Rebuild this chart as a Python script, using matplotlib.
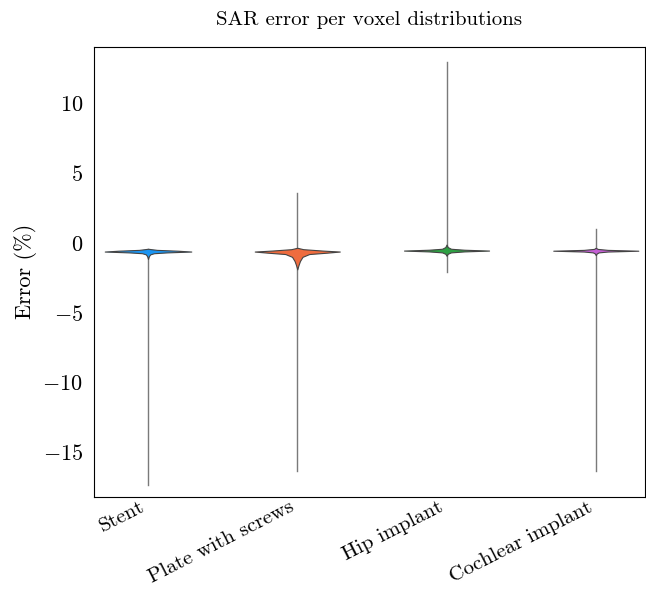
import matplotlib
matplotlib.use("Agg")
import matplotlib.pyplot as plt
import numpy as np

plt.rcParams['font.family'] = 'serif'
plt.rcParams['font.serif'] = ['cmr10']
plt.rcParams['mathtext.fontset'] = 'cm'
plt.rcParams['axes.formatter.use_mathtext'] = True

# Categories and summary values
labels = ['Stent', 'Plate with screws', 'Hip implant', 'Cochlear implant']
colors = ['#1b95f2', '#ef6c3e', '#2ea043', '#c460d4']
err_min = [-17.35, -16.4, -2.1, -16.4]
err_max = [-0.45, 3.55, 12.95, 1.0]

# Violin profiles: error levels (%) and estimated half-widths of the density
stent_y = [-0.42, -0.5, -0.56, -0.62, -0.68, -0.74, -0.82, -0.95, -1.15]
stent_w = [0.0, 0.06, 0.2, 0.29, 0.13, 0.04, 0.015, 0.006, 0.0]
plate_y = [-0.35, -0.45, -0.55, -0.62, -0.7, -0.8, -1.0, -1.3, -1.6, -1.9]
plate_w = [0.0, 0.04, 0.17, 0.285, 0.2, 0.08, 0.035, 0.018, 0.008, 0.0]
hip_y = [-0.12, -0.3, -0.42, -0.49, -0.55, -0.61, -0.68, -0.78, -0.92]
hip_w = [0.0, 0.008, 0.03, 0.12, 0.285, 0.12, 0.03, 0.008, 0.0]
coch_y = [-0.35, -0.43, -0.5, -0.56, -0.62, -0.68, -0.76, -0.88]
coch_w = [0.0, 0.012, 0.08, 0.285, 0.08, 0.02, 0.006, 0.0]

profiles = [(stent_y, stent_w), (plate_y, plate_w), (hip_y, hip_w), (coch_y, coch_w)]

fig = plt.figure(figsize=(6.46, 5.89), dpi=100)
ax = fig.add_axes([0.1455, 0.157, 0.853, 0.763])

for i, (yv, wv) in enumerate(profiles):
    # whisker line from min to max
    ax.plot([i, i], [err_min[i], err_max[i]], color='#7a7a7a', lw=1.0, zorder=1)
    yv = np.array(yv)
    wv = np.array(wv)
    ax.fill_betweenx(yv, i - wv, i + wv, facecolor=colors[i],
                     edgecolor='#444444', lw=0.8, zorder=2)

ax.set_xticks(range(len(labels)))
ax.set_xticklabels(labels, rotation=27, ha='right', fontsize=15)
ax.set_xlim(-0.362, 3.33)
ax.set_ylim(-18.2, 14.05)
ax.set_yticks([-15, -10, -5, 0, 5, 10])
ax.tick_params(axis='y', length=0, labelsize=16, pad=8)
ax.tick_params(axis='x', length=0, pad=1)
ax.set_ylabel('Error (%)', fontsize=16)
ax.set_title('SAR error per voxel distributions', fontsize=15, pad=16)

fig.savefig('out.png', dpi=100)
